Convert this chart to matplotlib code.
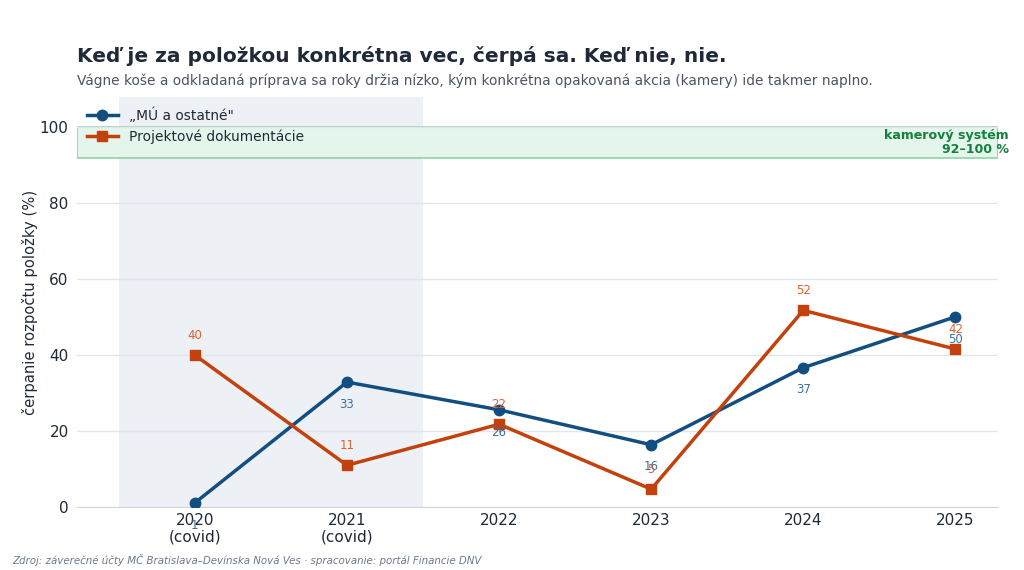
import numpy as np
import matplotlib.pyplot as plt

years = ["2020\n(covid)", "2021\n(covid)", "2022", "2023", "2024", "2025"]
mu_ostatne = [1.1, 32.9, 25.6, 16.4, 36.7, 50.1]
projekty = [40.0, 11.0, 21.8, 4.7, 51.8, 41.6]
mu_labels = ["1", "33", "26", "16", "37", "50"]
proj_labels = ["40", "11", "22", "5", "52", "42"]
kamery_low, kamery_high = 92, 100

BLUE = "#134e80"
ORANGE = "#c2410c"
GREEN = "#15803d"

plt.rcParams["font.family"] = ["DejaVu Sans"]

fig = plt.figure(figsize=(10.24, 5.7), dpi=100)
ax = fig.add_axes([77 / 1024, 1 - 507 / 570, (998 - 77) / 1024, (507 - 97) / 570])

x = np.arange(len(years))

ax.axvspan(-0.5, 1.5, color="#edf1f6", zorder=0, lw=0)
ax.axhspan(kamery_low, kamery_high, facecolor="#e4f5eb", edgecolor="#8fd3a8", lw=1.2, zorder=0.5)

ax.plot(x, mu_ostatne, color=BLUE, lw=2.5, marker="o", ms=7.5, label="„MÚ a ostatné\"", zorder=3)
ax.plot(x, projekty, color=ORANGE, lw=2.5, marker="s", ms=7.5, label="Projektové dokumentácie", zorder=3)

for xi, v, t in zip(x, mu_ostatne, mu_labels):
    ax.annotate(t, (xi, v), xytext=(0, -16), textcoords="offset points", ha="center", va="center",
                color="#3b6fa0", fontsize=8.5, zorder=4)
for xi, v, t in zip(x, projekty, proj_labels):
    ax.annotate(t, (xi, v), xytext=(0, 14), textcoords="offset points", ha="center", va="center",
                color="#d9622e", fontsize=8.5, zorder=4)

ax.text(1.012, (kamery_low + kamery_high) / 2, "kamerový systém\n92–100 %", transform=ax.get_yaxis_transform(),
        ha="right", va="center", color=GREEN, fontsize=9.1, fontweight="bold", linespacing=1.1)

ax.set_xlim(-0.775, 5.28)
ax.set_ylim(0, 108)
ax.set_xticks(x)
ax.set_xticklabels(years, fontsize=11, color="#1f2937")
ax.set_yticks([0, 20, 40, 60, 80, 100])
ax.tick_params(axis="y", labelsize=11, colors="#1f2937", length=0, pad=6)
ax.tick_params(axis="x", length=0, pad=4)
ax.set_ylabel("čerpanie rozpočtu položky (%)", fontsize=10.6, color="#1f2937", labelpad=1)

ax.grid(axis="y", color="#e2e6ec", lw=1)
ax.set_axisbelow(True)
for s in ["top", "right", "left"]:
    ax.spines[s].set_visible(False)
ax.spines["bottom"].set_color("#cfd6df")

ax.legend(loc="upper left", bbox_to_anchor=(0.0, 1.0), frameon=False, fontsize=9.9,
          handlelength=2.2, labelcolor="#1f2937", borderaxespad=0.35, labelspacing=0.5)

fig.text(77 / 1024, 1 - 56 / 570, "Keď je za položkou konkrétna vec, čerpá sa. Keď nie, nie.",
         fontsize=14.5, fontweight="bold", color="#1f2937", va="center")
fig.text(77 / 1024, 1 - 81 / 570,
         "Vágne koše a odkladaná príprava sa roky držia nízko, kým konkrétna opakovaná akcia (kamery) ide takmer naplno.",
         fontsize=9.9, color="#4b5563", va="center")
fig.text(12 / 1024, 1 - 560 / 570,
         "Zdroj: záverečné účty MČ Bratislava–Devínska Nová Ves · spracovanie: portál Financie DNV",
         fontsize=7.35, style="italic", color="#6b7a90", va="center")

fig.savefig("out.png", dpi=100)
